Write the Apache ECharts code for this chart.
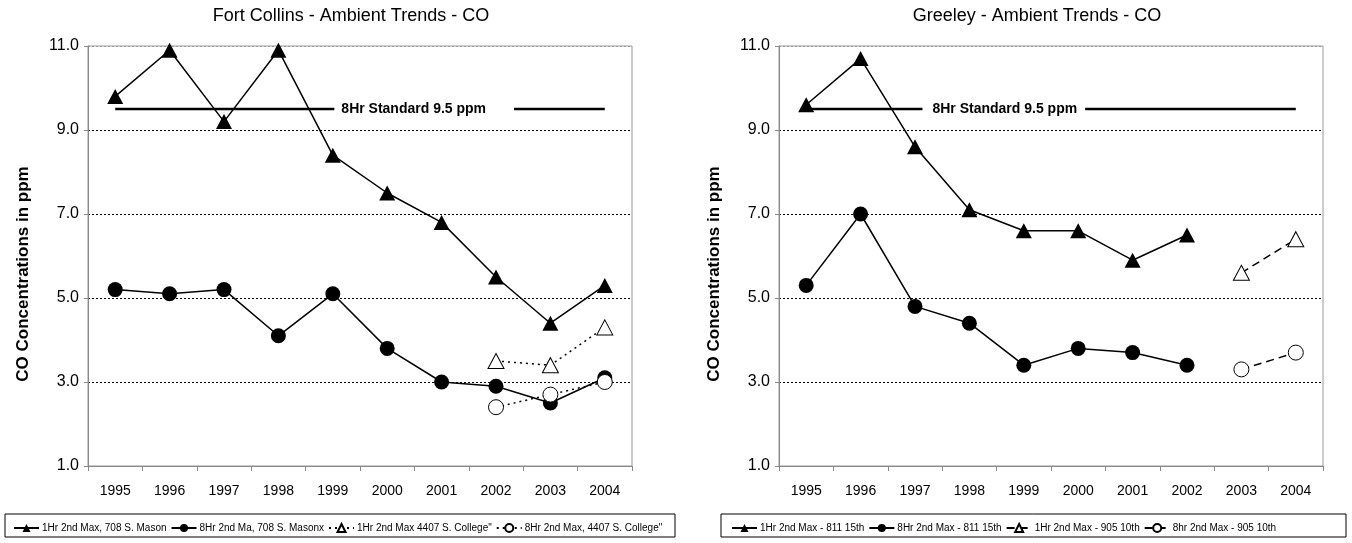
<!DOCTYPE html>
<html>
<head>
<meta charset="utf-8">
<script src="https://cdn.jsdelivr.net/npm/echarts@6/dist/echarts.min.js"></script>
<style>
  html, body { margin: 0; padding: 0; background: #fff; }
  #chart { width: 1352px; height: 543px; }
</style>
</head>
<body>
<div id="chart"></div>
<script>
// years on both charts
const years = ['1995', '1996', '1997', '1998', '1999', '2000', '2001', '2002', '2003', '2004']
const yTicks = [1, 3, 5, 7, 9, 11]

// Fort Collins
const fcMason1Hr = [9.8, 10.9, 9.2, 10.9, 8.4, 7.5, 6.8, 5.5, 4.4, 5.3]
const fcMason8Hr = [5.2, 5.1, 5.2, 4.1, 5.1, 3.8, 3.0, 2.9, 2.5, 3.1]
const fcCollege1Hr = [null, null, null, null, null, null, null, 3.5, 3.4, 4.3]
const fcCollege8Hr = [null, null, null, null, null, null, null, 2.4, 2.7, 3.0]

// Greeley
const grA1Hr = [9.6, 10.7, 8.6, 7.1, 6.6, 6.6, 5.9, 6.5, null, null]
const grA8Hr = [5.3, 7.0, 4.8, 4.4, 3.4, 3.8, 3.7, 3.4, null, null]
const grB1Hr = [null, null, null, null, null, null, null, null, 5.6, 6.4]
const grB8Hr = [null, null, null, null, null, null, null, null, 3.3, 3.7]

const standard = 9.5
const standardText = '8Hr Standard 9.5 ppm'

const fcNames = ['1Hr 2nd Max, 708 S. Mason', '8Hr 2nd Ma, 708 S. Masonx', '1Hr 2nd Max 4407 S. College"', '8Hr 2nd Max, 4407 S. College"']
const grNames = ['1Hr 2nd Max - 811 15th', '8Hr 2nd Max - 811 15th', '1Hr 2nd Max - 905 10th', '8hr 2nd Max - 905 10th']

const font = 'Liberation Sans, Arial, sans-serif'
const narrow = 'Liberation Sans Narrow, Arial Narrow, Liberation Sans, sans-serif'

const myChart = echarts.init(document.getElementById('chart'))

const makeX = (idx) => ({
  type: 'category',
  gridIndex: idx,
  data: years,
  boundaryGap: true,
  axisLine: { lineStyle: { color: '#888', width: 1 } },
  axisTick: { show: true, length: 5, lineStyle: { color: '#888' } },
  axisLabel: { color: '#000', fontSize: 14, fontFamily: font, margin: 18 }
})

const makeY = (idx) => ({
  type: 'value',
  gridIndex: idx,
  min: yTicks[0],
  max: yTicks[yTicks.length - 1],
  interval: 2,
  name: 'CO Concentrations in ppm',
  nameLocation: 'middle',
  nameGap: 56,
  // right padding pushes the rotated title a bit lower, like the original
  nameTextStyle: { color: '#000', fontSize: 17, fontWeight: 'bold', fontFamily: font, padding: [0, 36, 0, 0] },
  axisLine: { show: true, lineStyle: { color: '#888' } },
  axisTick: { show: true, length: 4, lineStyle: { color: '#888' } },
  axisLabel: { color: '#000', fontSize: 16, fontFamily: font, margin: 9, formatter: v => v.toFixed(1) },
  splitLine: {
    show: true,
    lineStyle: { color: ['#999', '#000', '#000', '#000', '#000', '#999'], type: [2, 2], width: 1 }
  }
})

const lineSeries = (name, data, idx, symbol, filled, dash, size) => ({
  name: name,
  type: 'line',
  xAxisIndex: idx,
  yAxisIndex: idx,
  data: data,
  symbol: symbol,
  symbolSize: size,
  showSymbol: true,
  connectNulls: false,
  lineStyle: { color: '#000', width: 1.5, type: dash },
  itemStyle: {
    color: filled ? '#000' : '#fff',
    borderColor: '#000',
    borderWidth: filled ? 0 : 1
  },
  emphasis: { disabled: true },
  z: 3
})

// standard line, label sits on one point with white background
const standardSeries = (idx, labelAt, offset, padding) => ({
  type: 'line',
  xAxisIndex: idx,
  yAxisIndex: idx,
  data: years.map((y, i) => i === labelAt ? {
    value: standard,
    label: {
      show: true, position: 'inside', offset: offset, formatter: standardText,
      color: '#000', fontSize: 14, fontWeight: 'bold', fontFamily: font,
      backgroundColor: '#fff', padding: padding
    }
  } : standard),
  symbol: 'circle',
  symbolSize: 1,
  showSymbol: true,
  itemStyle: { color: 'rgba(0,0,0,0)' },
  lineStyle: { color: '#000', width: 2.5 },
  emphasis: { disabled: true },
  silent: true,
  z: 2
})

const legendCfg = (names, left) => ({
  data: names.map(n => ({ name: n })),
  left: left,
  top: 518,
  itemGap: 4,
  itemWidth: 25,
  itemHeight: 10,
  selectedMode: false,
  textStyle: { color: '#000', fontSize: 10, fontFamily: narrow, padding: [0, 0, 0, -2] }
})

myChart.setOption({
  animation: false,
  title: [
    { text: 'Fort Collins - Ambient Trends - CO', left: 346, textAlign: 'center', top: 2,
      textStyle: { fontSize: 18, fontWeight: 'normal', color: '#000', fontFamily: font } },
    { text: 'Greeley - Ambient Trends - CO', left: 1032, textAlign: 'center', top: 2,
      textStyle: { fontSize: 18, fontWeight: 'normal', color: '#000', fontFamily: font } }
  ],
  grid: [
    { left: 88, top: 46, width: 544, height: 420, show: true, borderColor: '#999', borderWidth: 1 },
    { left: 779, top: 46, width: 544, height: 420, show: true, borderColor: '#999', borderWidth: 1 }
  ],
  xAxis: [makeX(0), makeX(1)],
  yAxis: [makeY(0), makeY(1)],
  legend: [legendCfg(fcNames, 8), legendCfg(grNames, 726)],
  graphic: [
    { type: 'rect', shape: { x: 5, y: 514, width: 670, height: 23 }, style: { fill: 'none', stroke: '#000', lineWidth: 1 }, silent: true },
    { type: 'rect', shape: { x: 721, y: 514, width: 625, height: 23 }, style: { fill: 'none', stroke: '#000', lineWidth: 1 }, silent: true }
  ],
  series: [
    standardSeries(0, 5, [37, 0], [1, 28, 1, 7]),
    lineSeries(fcNames[0], fcMason1Hr, 0, 'triangle', true, 'solid', [16, 15]),
    lineSeries(fcNames[1], fcMason8Hr, 0, 'circle', true, 'solid', 15),
    lineSeries(fcNames[2], fcCollege1Hr, 0, 'triangle', false, [2, 4], [16, 15]),
    lineSeries(fcNames[3], fcCollege8Hr, 0, 'circle', false, [2, 4], 15),
    standardSeries(1, 4, [-20, 0], [1, 8, 1, 10]),
    lineSeries(grNames[0], grA1Hr, 1, 'triangle', true, 'solid', [16, 15]),
    lineSeries(grNames[1], grA8Hr, 1, 'circle', true, 'solid', 15),
    lineSeries(grNames[2], grB1Hr, 1, 'triangle', false, [8, 5], [16, 15]),
    lineSeries(grNames[3], grB8Hr, 1, 'circle', false, [8, 5], 15)
  ]
})
</script>
</body>
</html>
